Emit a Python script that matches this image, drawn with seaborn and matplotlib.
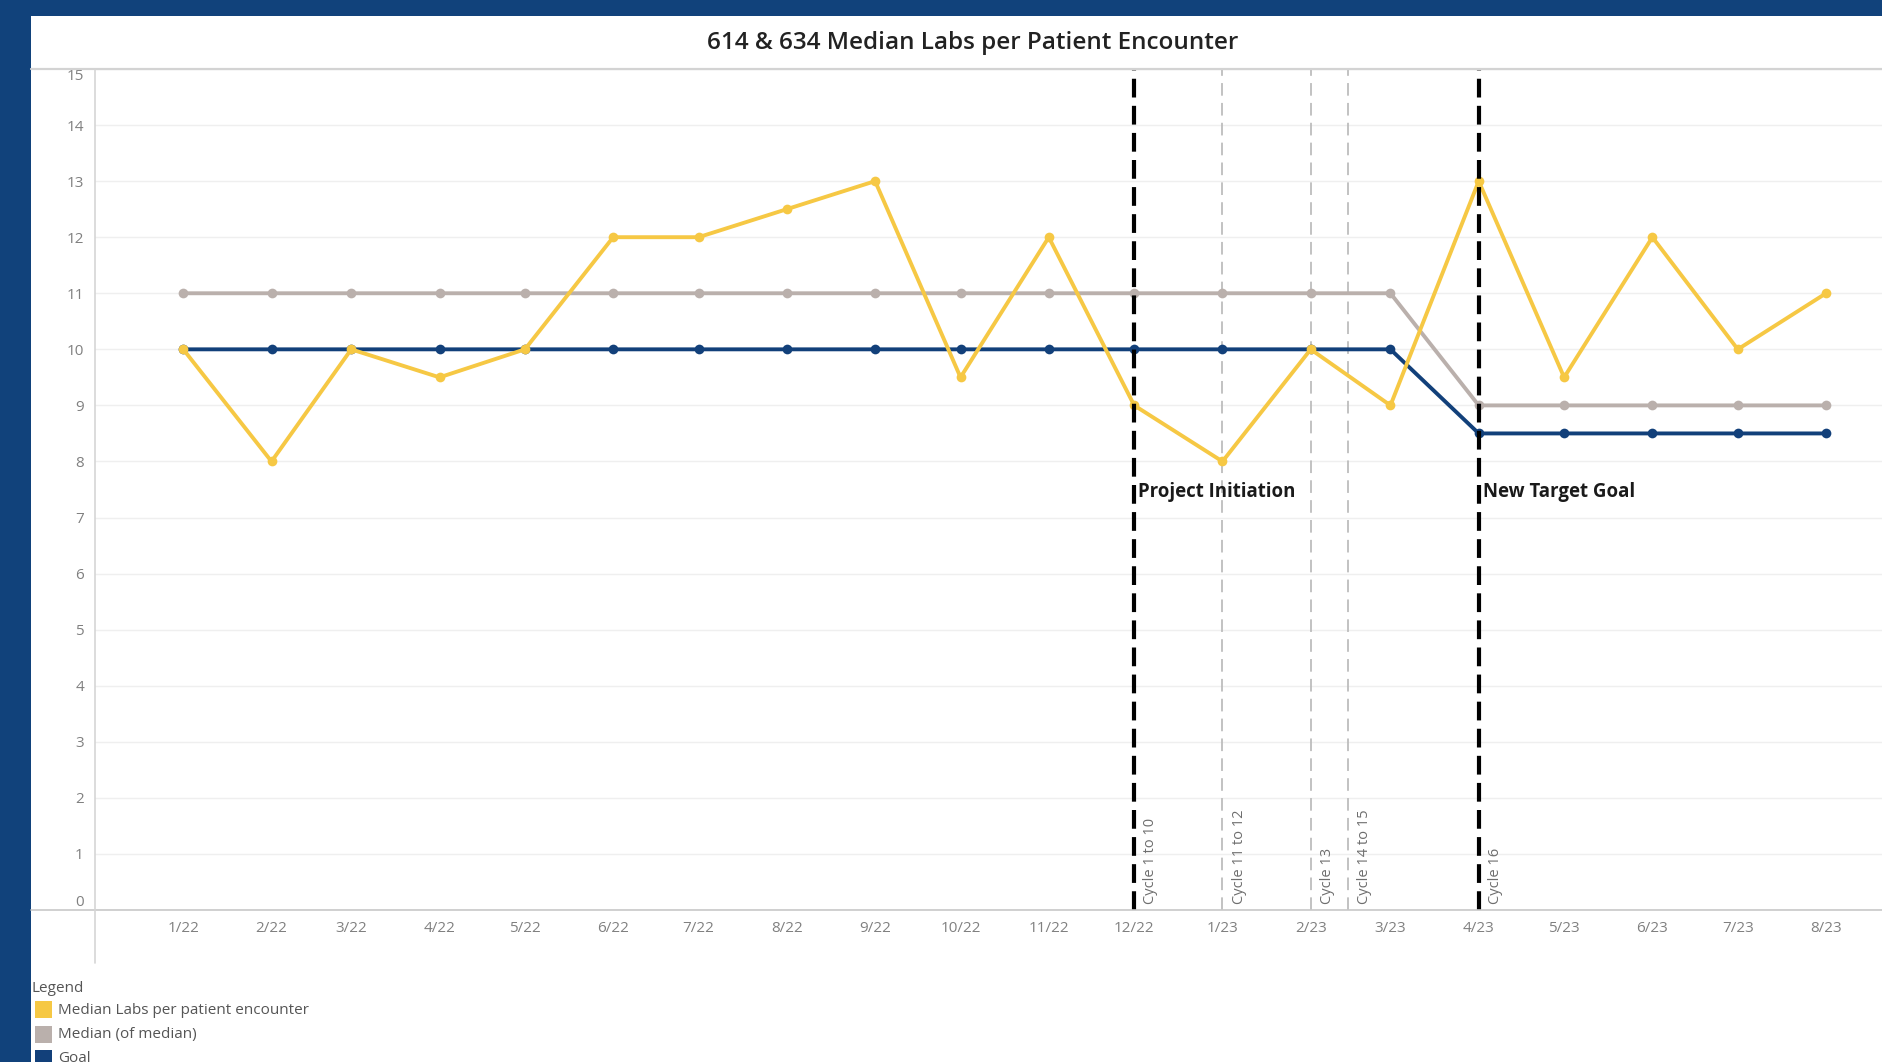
import numpy as np
import pandas as pd
import matplotlib.pyplot as plt
import matplotlib.dates as mdates
from matplotlib.patches import Rectangle
from matplotlib.lines import Line2D
import seaborn as sns

# --- data ---
months = pd.date_range("2022-01-01", periods=20, freq="MS")
month_labels = ["1/22", "2/22", "3/22", "4/22", "5/22", "6/22", "7/22", "8/22", "9/22", "10/22",
                "11/22", "12/22", "1/23", "2/23", "3/23", "4/23", "5/23", "6/23", "7/23", "8/23"]
median_labs = [10, 8, 10, 9.5, 10, 12, 12, 12.5, 13, 9.5, 12, 9, 8, 10, 9, 13, 9.5, 12, 10, 11]
median_of_median = [11] * 15 + [9] * 5
goal = [10] * 15 + [8.5] * 5

cycle_dates = pd.to_datetime(["2022-12-01", "2023-01-01", "2023-02-01", "2023-02-14", "2023-04-01"])
cycle_labels = ["Cycle 1 to 10", "Cycle 11 to 12", "Cycle 13", "Cycle 14 to 15", "Cycle 16"]
cycle_major = [True, False, False, False, True]
milestone_dates = pd.to_datetime(["2022-12-01", "2023-04-01"])
milestone_labels = ["Project Initiation", "New Target Goal"]

series_names = ["Median Labs per patient encounter", "Median (of median)", "Goal"]
colors = ["#F6C844", "#BAB0AC", "#12407A"]

df = pd.concat([
    pd.DataFrame({"month": months, "value": median_labs, "series": series_names[0]}),
    pd.DataFrame({"month": months, "value": median_of_median, "series": series_names[1]}),
    pd.DataFrame({"month": months, "value": goal, "series": series_names[2]}),
])

sns.set_style("white")
plt.rcParams["font.family"] = ["Open Sans", "DejaVu Sans"]

W, H = 1883, 1062
fig = plt.figure(figsize=(W / 100, H / 100), dpi=100, facecolor="#11427B")
# white panel inside the blue frame
fig.patches.append(Rectangle((31 / W, 0), 1 - 31 / W, 1 - 16 / H, transform=fig.transFigure,
                             facecolor="white", edgecolor="none", zorder=-5))

ax = fig.add_axes([95 / W, 1 - 910 / H, 1 - 95 / W, (910 - 69) / H])
ax.set_zorder(1)
ax.set_facecolor("white")

# draw order: gray, goal, yellow on top
order = [series_names[1], series_names[2], series_names[0]]
sns.lineplot(data=df, x="month", y="value", hue="series", hue_order=order,
             palette=dict(zip(series_names, colors)), marker="o", markersize=7,
             markeredgewidth=0, linewidth=2.8, legend=False, ax=ax, zorder=3)

ax.set_ylim(0, 15)
ax.set_xlim(pd.Timestamp("2021-12-01"), pd.Timestamp("2023-08-21"))
ax.set_yticks(range(0, 16))
ax.yaxis.grid(True, color="#EFEFEF", linewidth=1)
ax.xaxis.grid(False)
for s in ["top", "right", "left", "bottom"]:
    ax.spines[s].set_visible(False)

ax.set_xticks(months)
ax.set_xticklabels(month_labels)
ax.tick_params(axis="x", length=4, width=1, color="#999999", pad=4, labelsize=11, labelcolor="#808080")
ax.tick_params(axis="y", length=0, pad=8, labelsize=11, labelcolor="#808080")
ytl = ax.get_yticklabels()
ytl[-1].set_va("top")
ytl[0].set_va("bottom")
ax.set_xlabel("")
ax.set_ylabel("")

# vertical cycle lines
for d, lab, major in zip(cycle_dates, cycle_labels, cycle_major):
    if major:
        ax.axvline(d, color="black", linewidth=3, linestyle=(0, (4.5, 2)), zorder=4)
    else:
        ax.axvline(d, color="#BDBDBD", linewidth=1.3, linestyle=(0, (7, 4)), zorder=2)
    ax.annotate(lab, xy=(d, 0), xytext=(12, 4), textcoords="offset points",
                rotation=90, ha="center", va="bottom", fontsize=10.5, color="#6E6E6E")

for d, lab in zip(milestone_dates, milestone_labels):
    ax.annotate(lab, xy=(d, 7.45), xytext=(3, 0), textcoords="offset points",
                ha="left", va="center", fontsize=13.4, fontweight="bold", color="#1A1A1A", zorder=5)

# frame lines (header separator, baseline, y axis line)
fig.lines.append(Line2D([31 / W, 1], [1 - 69 / H] * 2, transform=fig.transFigure, color="#D3D3D3", lw=1.6, zorder=5))
fig.lines.append(Line2D([31 / W, 1], [1 - 910 / H] * 2, transform=fig.transFigure, color="#C8C8C8", lw=1.2, zorder=5))
fig.lines.append(Line2D([95 / W] * 2, [1 - 69 / H, 1 - 963 / H], transform=fig.transFigure, color="#D5D5D5", lw=1.2, zorder=5))

fig.text(973 / W, 1 - 43 / H, "614 & 634 Median Labs per Patient Encounter", ha="center", va="center",
         fontsize=17.5, fontweight="semibold", color="#222222")

# legend
fig.text(32 / W, 1 - 989 / H, "Legend", ha="left", va="center", fontsize=11, color="#555555")
for i, (name, c) in enumerate(zip(series_names, colors)):
    yc = 1010 + i * 24.5
    fig.patches.append(Rectangle((35 / W, 1 - (yc + 8) / H), 17 / W, 17 / H, transform=fig.transFigure,
                                 facecolor=c, edgecolor="none"))
    fig.text(58 / W, 1 - yc / H, name, ha="left", va="center", fontsize=11, color="#555555")

fig.savefig("out.png", dpi=100, facecolor=fig.get_facecolor())
